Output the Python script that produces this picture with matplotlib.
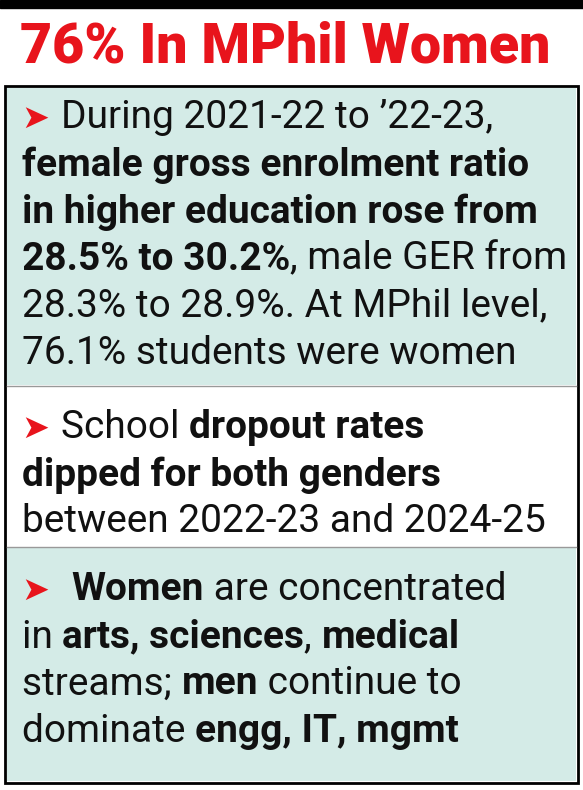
import matplotlib
matplotlib.use("Agg")
import matplotlib.pyplot as plt
from matplotlib.patches import Rectangle

TITLE = "76% In MPhil Women"
# each line: list of (text, bold)
SECTION1 = [
    [("\u27a4 ", "arrow"), ("During 2021-22 to \u201922-23,", False)],
    [("female gross enrolment ratio", True)],
    [("in higher education rose from", True)],
    [("28.5% to 30.2%", True), (", male GER from", False)],
    [("28.3% to 28.9%. At MPhil level,", False)],
    [("76.1% students were women", False)],
]
SECTION2 = [
    [("\u27a4 ", "arrow"), ("School ", False), ("dropout rates", True)],
    [("dipped for both genders", True)],
    [("between 2022-23 and 2024-25", False)],
]
SECTION3 = [
    [("\u27a4  ", "arrow"), ("Women", True), (" are concentrated", False)],
    [("in ", False), ("arts, sciences", True), (", ", False), ("medical", True)],
    [("streams; ", False), ("men", True), (" continue to", False)],
    [("dominate ", False), ("engg, IT, mgmt", True)],
]

TEAL = "#d4ebe7"
RED = "#e8141c"
FAM = ["Liberation Sans Narrow", "Roboto", "DejaVu Sans"]

fig = plt.figure(figsize=(5.83, 7.90), dpi=100)
ax = fig.add_axes([0, 0, 1, 1])
ax.set_xlim(0, 583)
ax.set_ylim(790, 0)
ax.axis("off")

ax.add_patch(Rectangle((0, 0), 583, 8, color="black"))
ax.text(285, 47, TITLE, ha="center", va="center", fontsize=40, fontweight="heavy",
        color=RED, family=FAM)

ax.add_patch(Rectangle((5, 86), 573, 697, facecolor="white", edgecolor="black", lw=2))
ax.add_patch(Rectangle((7, 88), 569, 297, facecolor=TEAL, edgecolor="none"))
ax.add_patch(Rectangle((7, 548), 569, 233, facecolor=TEAL, edgecolor="none"))
ax.plot([7, 576], [386, 386], color="#999999", lw=1)
ax.plot([7, 576], [547, 547], color="#999999", lw=1)

fig.canvas.draw()
renderer = fig.canvas.get_renderer()


def draw_line(x0, y, segs):
    x = x0
    for txt, style in segs:
        kw = dict(fontsize=28, va="center", ha="left", family=FAM, color="#111111")
        if style == "arrow":
            kw.update(color=RED, family=["DejaVu Sans"], fontsize=24)
        elif style:
            kw.update(fontweight="bold")
        t = ax.text(x, y, txt, **kw)
        bb = t.get_window_extent(renderer)
        x += bb.width  # 1 data unit == 1 pixel


for lines, start in [(SECTION1, 118), (SECTION2, 428), (SECTION3, 590)]:
    for i, segs in enumerate(lines):
        draw_line(22, start + i * 47, segs)

fig.savefig("out.png", dpi=100)
